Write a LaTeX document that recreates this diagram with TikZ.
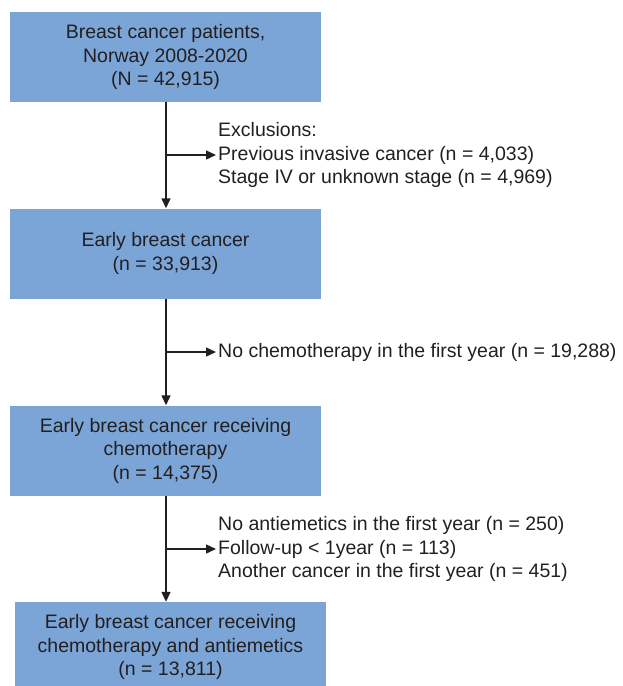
\documentclass[tikz,border=0pt]{standalone}
\usepackage{fontspec}
\setmainfont{Liberation Sans}
\usetikzlibrary{arrows.meta}
\definecolor{boxblue}{RGB}{123,165,215}
\definecolor{ink}{RGB}{35,31,32}
\tikzset{
  stage/.style={fill=boxblue,minimum width=311pt,minimum height=90pt,inner sep=0pt,align=center,text=ink},
  excl/.style={anchor=west,align=left,inner sep=2pt,text=ink},
  flow/.style={line width=1.4pt,draw=ink,-{Triangle[length=10pt,width=9pt]}}
}
\begin{document}
\begin{tikzpicture}[x=1pt,y=-1pt]
  \fontsize{19.5}{23.5}\selectfont
  \clip (0,0) rectangle (622,686);
  % Boxes
  \node[stage] (cohort) at (165.5,57) {Breast cancer patients,\\Norway 2008-2020\\(N = 42,915)};
  \node[stage] (early) at (165.5,253.5) {Early breast cancer\\(n = 33,913)};
  \node[stage] (chemo) at (165.5,450.5) {Early breast cancer receiving\\chemotherapy\\(n = 14,375)};
  \node[stage] (final) at (170.5,647) {Early breast cancer receiving\\chemotherapy and antiemetics\\(n = 13,811)};
  % Exclusions
  \coordinate (m1) at (166,155);
  \coordinate (m2) at (166,352);
  \coordinate (m3) at (166,549);
  \node[excl] (ex1) at (216,155) {Exclusions:\\Previous invasive cancer (n = 4,033)\\Stage IV or unknown stage (n = 4,969)};
  \node[excl] (ex2) at (216,352) {No chemotherapy in the first year (n = 19,288)};
  \node[excl] (ex3) at (216,549) {No antiemetics in the first year (n = 250)\\Follow-up < 1year (n = 113)\\Another cancer in the first year (n = 451)};
  % Arrows
  \draw[flow] (cohort.south -| m1) -- (early.north -| m1);
  \draw[flow] (early.south -| m2) -- (chemo.north -| m2);
  \draw[flow] (chemo.south -| m3) -- (final.north -| m3);
  \draw[flow] (m1) -- (ex1.west);
  \draw[flow] (m2) -- (ex2.west);
  \draw[flow] (m3) -- (ex3.west);
\end{tikzpicture}
\end{document}
